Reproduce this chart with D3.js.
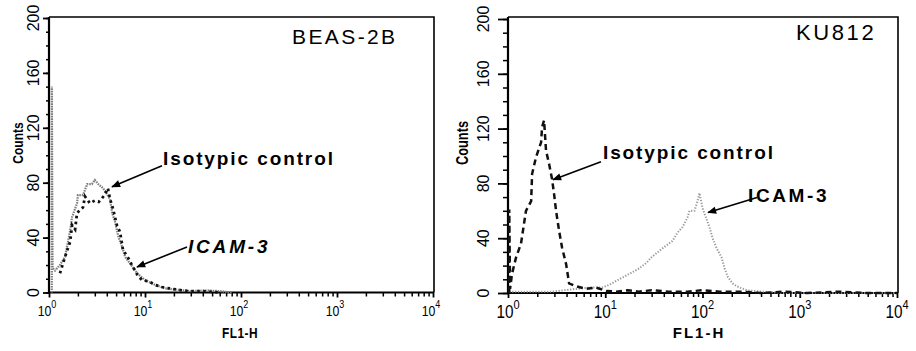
<!DOCTYPE html>
<html><head><meta charset="utf-8">
<script src="https://cdn.jsdelivr.net/npm/d3@7"></script>
<style>body{margin:0;background:#fff} svg{display:block}</style>
</head><body>
<svg id="chart" width="916" height="351"></svg>
<script>
// ---------------- data ----------------
const yTickValues = [0, 40, 80, 120, 160, 200];
const xDecades = [1, 10, 100, 1000, 10000];
const xExponents = ["0", "1", "2", "3", "4"];
const panelTitles = ["BEAS-2B", "KU812"];
const seriesNames = ["Isotypic control", "ICAM-3"];

// BEAS-2B, ICAM-3 (grey dots)
const beasIcamX = [1.07, 1.07, 1.09, 1.155, 1.3, 1.47, 1.66, 1.74, 1.96, 2.0, 2.26, 2.5, 2.8, 3.0, 3.25, 3.66, 4.33, 4.55, 4.9, 5.26, 5.8, 6.2, 7.37, 8.3, 10.0, 12.8, 16.2, 22, 30, 45, 60, 80];
const beasIcamY = [0, 150, 18, 16, 20, 26, 45, 55, 65, 71, 71, 79, 79, 82, 79, 76, 68, 58, 51, 41, 33, 26, 19, 14, 9, 5.5, 3, 2, 1, 1.5, 1, 0];
// BEAS-2B, isotypic control (black dots)
const beasIsoX = [1.3, 1.47, 1.66, 1.74, 1.87, 1.96, 2.26, 2.37, 2.67, 3.0, 3.3, 3.8, 4.1, 4.33, 4.6, 5.1, 5.5, 5.9, 6.7, 7.3, 8.3, 9.3, 11, 12.8, 15, 18, 22, 28, 40, 60];
const beasIsoY = [14, 26, 37, 49, 46, 58, 62, 70, 65, 67, 66, 71, 76, 68, 62, 49, 44, 31, 25, 20, 13, 9, 8, 5.5, 4, 3, 2, 1, 1, 0];
// KU812, isotypic control (black dashes)
const kuIsoX = [1.03, 1.03, 1.05, 1.10, 1.21, 1.36, 1.53, 1.73, 1.77, 1.94, 2.19, 2.24, 2.35, 2.46, 2.65, 2.84, 2.98, 3.12, 3.36, 3.60, 3.96, 4.25, 5.0, 6.4, 8, 10.2, 13, 17, 22, 30, 45, 70, 100, 150, 250, 400, 700, 1200, 2500, 5000, 10000];
const kuIsoY = [0, 61, 3, 14, 26, 36, 60, 67, 87, 99, 110, 121, 126, 104, 94, 83, 72, 60, 45, 33, 21, 7, 5, 3, 4, 1.5, 1, 2, 1, 2, 1, 1, 2, 1, 1, 0, 1, 0, 1, 0, 0];
// KU812, ICAM-3 (grey dots)
const kuIcamX = [1.03, 2, 2.84, 5.02, 7, 9.31, 11, 13.9, 17.7, 22.4, 26.5, 29.8, 37.8, 49.1, 55.2, 62.2, 70, 73.5, 82.7, 88.8, 93.1, 100, 110, 118, 127, 139, 157, 169, 181, 204, 224, 284, 400, 700, 2000, 10000];
const kuIcamY = [1, 1, 1, 3, 4, 4, 6, 10, 14, 18, 22, 26, 32, 38, 44, 48, 55, 60, 60, 67, 73, 62, 54, 48, 40, 33, 26, 18, 12, 7, 5, 2, 1, 0, 0, 0];

// annotation arrow tips, in data units [FL1-H, counts]
const beasIsoTip = [4.53, 77];
const beasIcamTip = [8.26, 18.6];
const kuIsoTip = [2.90, 82.7];
const kuIcamTip = [114, 58.7];

// ---------------- layout ----------------
const svg = d3.select("#chart");
const FONT = "'Liberation Sans', Arial, Helvetica, sans-serif";

svg.append("defs").append("marker")
  .attr("id", "ah").attr("markerUnits", "userSpaceOnUse")
  .attr("viewBox", "0 -5 10 10").attr("refX", 9).attr("refY", 0)
  .attr("markerWidth", 10).attr("markerHeight", 9).attr("orient", "auto")
  .append("path").attr("d", "M0,-4L10,0L0,4Z").attr("fill", "#000");

const panels = [
  {
    x0: 49, x1: 433, y0: 292.5, y1: 18, top: 17,
    majorY: 6, minorY: 3, ylabBase: 39, ylabSize: 16,
    xlabSize: 15, xsupSize: 11, xlabBase: 316, xsupDy: -8, xShift: -2, xScaleX: 0.82,
    countsX: 23, countsSize: 15, flX: 240, flY: 338, flSize: 14, flScale: 0.85, flSpacing: 0.5,
    title: panelTitles[0], titleX: 292, titleY: 44, titleSize: 21, titleSpacing: 2.4,
    series: [
      { xs: beasIcamX, ys: beasIcamY, stroke: "#7d7d7d", width: 2.2, dash: "1.5,1" },
      { xs: beasIsoX, ys: beasIsoY, stroke: "#111", width: 2.8, dash: "2.6,3.4" }
    ],
    notes: [
      { tip: beasIsoTip, tail: [50, -21], text: seriesNames[0], tx: 51, ty: -22, italic: false, spacing: 1.9 },
      { tip: beasIcamTip, tail: [50, -20], text: seriesNames[1], tx: 51, ty: -14, italic: true, spacing: 2.8 }
    ]
  },
  {
    x0: 508, x1: 897, y0: 293, y1: 19, top: 17,
    majorY: 10, minorY: 5, ylabBase: 489, ylabSize: 16,
    xlabSize: 18, xsupSize: 13, xlabBase: 318, xsupDy: -9, xShift: 0, xScaleX: 0.85,
    countsX: 468, countsSize: 16, flX: 699, flY: 338, flSize: 15, flScale: 1, flSpacing: 2,
    title: panelTitles[1], titleX: 796, titleY: 40, titleSize: 22, titleSpacing: 2.6,
    series: [
      { xs: kuIcamX, ys: kuIcamY, stroke: "#9a9a9a", width: 2.0, dash: "1.3,1.6" },
      { xs: kuIsoX, ys: kuIsoY, stroke: "#111", width: 2.5, dash: "6,4" }
    ],
    notes: [
      { tip: kuIsoTip, tail: [48, -18], text: seriesNames[0], tx: 50, ty: -21, italic: false, spacing: 1.9 },
      { tip: kuIcamTip, tail: [49, -15], text: seriesNames[1], tx: 40, ty: -11, italic: false, spacing: 2.6 }
    ]
  }
];

panels.forEach(p => {
  const g = svg.append("g");
  const x = d3.scaleLog().domain([1, 10000]).range([p.x0, p.x1]);
  const y = d3.scaleLinear().domain([0, 200]).range([p.y0, p.y1]);

  // frame (top & right thinner)
  g.append("path")
    .attr("d", `M${p.x0},${p.top}H${p.x1 + 1}V${p.y0}`)
    .attr("fill", "none").attr("stroke", "#000").attr("stroke-width", 1.6);

  // minor y ticks
  const yMinor = d3.axisLeft(y).tickValues(d3.range(0, 201, 10)).tickSize(p.minorY).tickFormat("");
  g.append("g").attr("transform", `translate(${p.x0},0)`).call(yMinor)
    .call(s => s.select(".domain").remove())
    .call(s => s.selectAll("line").attr("stroke-width", 1.5));
  // major y ticks
  const yAxis = d3.axisLeft(y).tickValues(yTickValues).tickSize(p.majorY).tickFormat("");
  g.append("g").attr("transform", `translate(${p.x0},0)`).call(yAxis)
    .call(s => s.select(".domain").attr("stroke-width", 2.2).attr("d", `M0,${p.top}V${p.y0 + 1}`))
    .call(s => s.selectAll("line").attr("stroke-width", 1.8));
  // y labels (rotated)
  g.selectAll(".ylab").data(yTickValues).join("text")
    .attr("transform", d => `translate(${p.ylabBase},${y(d)}) rotate(-90)`)
    .attr("text-anchor", "middle")
    .attr("font-family", FONT).attr("font-size", p.ylabSize)
    .text(d => d);

  // x ticks: minor
  const minorVals = [];
  xDecades.slice(0, -1).forEach(d => { for (let k = 2; k <= 9; k++) minorVals.push(d * k); });
  const xMinor = d3.axisBottom(x).tickValues(minorVals).tickSize(4).tickFormat("");
  g.append("g").attr("transform", `translate(0,${p.y0})`).call(xMinor)
    .call(s => s.select(".domain").remove())
    .call(s => s.selectAll("line").attr("stroke-width", 1.5));
  const xAxis = d3.axisBottom(x).tickValues(xDecades).tickSize(5).tickFormat("");
  g.append("g").attr("transform", `translate(0,${p.y0})`).call(xAxis)
    .call(s => s.select(".domain").attr("stroke-width", 2.2).attr("d", `M${p.x0 - 1},0H${p.x1 + 1}`))
    .call(s => s.selectAll("line").attr("stroke-width", 1.8));
  // x labels 10^n
  xDecades.forEach((d, i) => {
    const t = g.append("text")
      .attr("transform", `translate(${x(d) + p.xShift},${p.xlabBase}) scale(${p.xScaleX},1)`)
      .attr("text-anchor", "middle")
      .attr("font-family", FONT).attr("font-size", p.xlabSize);
    t.append("tspan").text("10");
    t.append("tspan").attr("dy", p.xsupDy).attr("font-size", p.xsupSize).text(xExponents[i]);
  });

  // axis titles
  g.append("text")
    .attr("transform", `translate(${p.countsX},143) rotate(-90) scale(0.8,1)`)
    .attr("text-anchor", "middle").attr("font-family", FONT)
    .attr("font-size", p.countsSize).attr("font-weight", "bold").text("Counts");
  g.append("text")
    .attr("transform", `translate(${p.flX},${p.flY}) scale(${p.flScale},1)`)
    .attr("text-anchor", "middle").attr("font-family", FONT)
    .attr("font-size", p.flSize).attr("font-weight", "bold")
    .attr("letter-spacing", p.flSpacing).text("FL1-H");

  // panel title
  g.append("text").attr("x", p.titleX).attr("y", p.titleY)
    .attr("font-family", FONT).attr("font-size", p.titleSize)
    .attr("letter-spacing", p.titleSpacing).text(p.title);

  // histogram series
  const line = d3.line().x(d => x(d[0])).y(d => y(d[1]));
  p.series.forEach(s => {
    const pts = s.xs.map((v, i) => [v, s.ys[i]]);
    g.append("path").datum(pts)
      .attr("d", line)
      .attr("fill", "none").attr("stroke", s.stroke)
      .attr("stroke-width", s.width).attr("stroke-dasharray", s.dash);
  });

  // annotations
  p.notes.forEach(n => {
    const tx = x(n.tip[0]), ty = y(n.tip[1]);
    g.append("line")
      .attr("x1", tx + n.tail[0]).attr("y1", ty + n.tail[1])
      .attr("x2", tx).attr("y2", ty)
      .attr("stroke", "#000").attr("stroke-width", 1.6)
      .attr("marker-end", "url(#ah)");
    g.append("text").attr("x", tx + n.tx).attr("y", ty + n.ty)
      .attr("font-family", FONT).attr("font-size", 19).attr("font-weight", "bold")
      .attr("font-style", n.italic ? "italic" : "normal")
      .attr("letter-spacing", n.spacing).text(n.text);
  });
});
</script>
</body></html>
